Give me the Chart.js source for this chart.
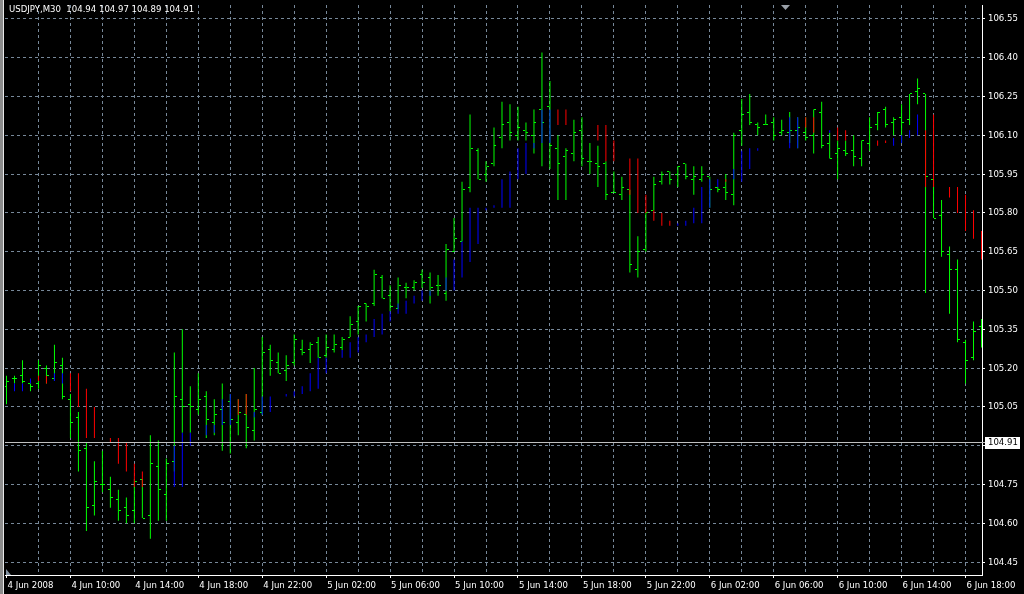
<!DOCTYPE html>
<html>
<head>
<meta charset="utf-8">
<script src="https://cdn.jsdelivr.net/npm/chart.js@4/dist/chart.umd.min.js"></script>
<style>
  html, body { margin: 0; padding: 0; background: #000; }
  #wrap { width: 1024px; height: 594px; position: relative; }
</style>
</head>
<body>
<div id="wrap"><canvas id="quotes"></canvas></div>
<script>
// USDJPY M30, 4-6 Jun 2008
const symbol = 'USDJPY,M30';
const headerOHLC = [104.94, 104.97, 104.89, 104.91];
const bidPrice = 104.91;

const dateLabels = ['4 Jun 2008', '4 Jun 10:00', '4 Jun 14:00', '4 Jun 18:00', '4 Jun 22:00',
  '5 Jun 02:00', '5 Jun 06:00', '5 Jun 10:00', '5 Jun 14:00', '5 Jun 18:00', '5 Jun 22:00',
  '6 Jun 02:00', '6 Jun 06:00', '6 Jun 10:00', '6 Jun 14:00', '6 Jun 18:00'];
const priceTicks = [104.45, 104.60, 104.75, 104.90, 105.05, 105.20, 105.35, 105.50,
  105.65, 105.80, 105.95, 106.10, 106.25, 106.40, 106.55];

const open = [105.13, 105.16, 105.17, 105.14, 105.14, 105.20, 105.16, 105.21, 105.08, 105.01,
  104.89, 104.67, 104.75, 104.73, 104.69, 104.66, 104.65, 104.77, 104.63, 104.82,
  104.71, 104.84, 105.08, 105.06, 105.04, 105.09, 104.99, 105.04, 105.07, 104.99,
  105.02, 104.96, 105.03, 105.27, 105.22, 105.19, 105.22, 105.27, 105.27, 105.30,
  105.25, 105.27, 105.28, 105.32, 105.38, 105.45, 105.45, 105.55, 105.48, 105.43,
  105.51, 105.51, 105.56, 105.55, 105.52, 105.49, 105.65, 105.69, 105.90, 106.04,
  105.95, 105.99, 106.09, 106.15, 106.10, 106.12, 106.10, 106.20, 106.21, 106.05,
  106.02, 106.03, 106.12, 106.00, 105.99, 105.99, 105.88, 105.87, 105.89, 105.58,
  105.66, 105.81, 105.92, 105.96, 105.95, 105.99, 105.93, 105.93, 105.94, 105.90,
  105.90, 105.87, 106.12, 106.19, 106.14, 106.14, 106.15, 106.11, 106.11, 106.12,
  106.11, 106.10, 106.19, 106.07, 106.03, 106.04, 106.04, 106.01, 106.07, 106.14,
  106.20, 106.15, 106.17, 106.16, 106.27, 106.26, 105.93, 105.79, 105.64, 105.58,
  105.30, 105.24, 105.36];
const high = [105.17, 105.17, 105.23, 105.14, 105.23, 105.21, 105.29, 105.24, 105.10, 105.03,
  104.91, 104.84, 104.88, 104.78, 104.73, 104.70, 104.77, 104.77, 104.94, 104.92,
  104.85, 105.26, 105.35, 105.13, 105.18, 105.11, 105.08, 105.14, 105.10, 105.08,
  105.10, 105.20, 105.32, 105.29, 105.26, 105.25, 105.33, 105.31, 105.30, 105.32,
  105.33, 105.33, 105.32, 105.40, 105.44, 105.45, 105.58, 105.56, 105.52, 105.55,
  105.53, 105.54, 105.58, 105.57, 105.56, 105.68, 105.78, 105.92, 106.18, 106.05,
  106.00, 106.13, 106.23, 106.22, 106.21, 106.15, 106.20, 106.42, 106.31, 106.10,
  106.05, 106.16, 106.17, 106.07, 106.06, 106.00, 105.96, 105.94, 105.89, 105.71,
  105.80, 105.94, 105.96, 105.96, 105.98, 105.99, 105.98, 105.98, 105.94, 105.90,
  105.95, 106.11, 106.24, 106.26, 106.15, 106.18, 106.17, 106.16, 106.19, 106.17,
  106.17, 106.20, 106.23, 106.11, 106.08, 106.08, 106.10, 106.08, 106.17, 106.19,
  106.21, 106.17, 106.22, 106.26, 106.32, 106.26, 105.93, 105.85, 105.67, 105.62,
  105.31, 105.38, 105.39];
const low = [105.06, 105.14, 105.14, 105.11, 105.12, 105.14, 105.15, 105.08, 104.93, 104.80,
  104.57, 104.63, 104.72, 104.66, 104.61, 104.60, 104.60, 104.62, 104.54, 104.61,
  104.61, 104.80, 104.95, 104.95, 105.02, 104.93, 104.94, 104.88, 104.87, 104.94,
  104.89, 104.92, 105.02, 105.17, 105.18, 105.15, 105.21, 105.25, 105.22, 105.24,
  105.24, 105.26, 105.27, 105.32, 105.33, 105.38, 105.44, 105.47, 105.42, 105.43,
  105.47, 105.50, 105.51, 105.45, 105.48, 105.46, 105.65, 105.69, 105.88, 105.93,
  105.92, 105.98, 106.05, 106.08, 106.08, 106.08, 106.03, 105.98, 105.97, 105.85,
  105.85, 106.00, 105.98, 105.95, 105.90, 105.85, 105.88, 105.85, 105.57, 105.55,
  105.65, 105.81, 105.91, 105.91, 105.90, 105.93, 105.87, 105.92, 105.82, 105.88,
  105.85, 105.83, 106.06, 106.14, 106.10, 106.14, 106.08, 106.10, 106.07, 106.05,
  106.08, 106.03, 106.05, 106.01, 105.93, 106.02, 105.98, 105.98, 106.04, 106.12,
  106.13, 106.10, 106.07, 106.14, 106.22, 105.49, 105.78, 105.63, 105.41, 105.30,
  105.14, 105.23, 105.28];
const close = [105.15, 105.16, 105.15, 105.13, 105.21, 105.17, 105.22, 105.09, 104.99, 104.88,
  104.66, 104.76, 104.75, 104.70, 104.65, 104.63, 104.76, 104.62, 104.83, 104.73,
  104.83, 105.09, 105.05, 105.05, 105.08, 105.00, 105.02, 104.99, 105.00, 105.03,
  104.97, 105.04, 105.26, 105.23, 105.18, 105.21, 105.31, 105.26, 105.29, 105.24,
  105.28, 105.29, 105.31, 105.37, 105.44, 105.44, 105.56, 105.47, 105.44, 105.52,
  105.51, 105.53, 105.53, 105.51, 105.52, 105.66, 105.70, 105.89, 106.05, 105.93,
  105.98, 106.06, 106.14, 106.11, 106.13, 106.11, 106.15, 106.15, 106.06, 105.99,
  106.04, 106.11, 106.01, 106.00, 105.98, 105.87, 105.88, 105.90, 105.60, 105.65,
  105.80, 105.91, 105.95, 105.93, 105.98, 105.94, 105.94, 105.95, 105.89, 105.89,
  105.88, 106.10, 106.18, 106.15, 106.13, 106.14, 106.10, 106.12, 106.12, 106.13,
  106.09, 106.20, 106.06, 106.01, 106.05, 106.03, 106.02, 106.08, 106.13, 106.19,
  106.14, 106.16, 106.15, 106.26, 106.28, 105.94, 105.78, 105.65, 105.58, 105.31,
  105.23, 105.34, 105.35];

// indicator segments (red = down, blue = up)
const segBar = [1, 2, 3, 4, 5, 6, 7, 8, 9, 10, 11, 13, 14, 15, 16, 17, 21, 22, 23, 25, 26, 27, 28, 29,
  30, 31, 32, 33, 35, 36, 37, 38, 39, 40, 42, 43, 44, 45, 46, 47, 48, 49, 50, 51, 52, 53, 55,
  56, 57, 58, 59, 60, 61, 62, 63, 64, 65, 66, 67, 68, 69, 70, 74, 75, 76, 78, 79, 80, 81, 82,
  83, 84, 85, 86, 87, 88, 89, 90, 91, 92, 93, 94, 98, 99, 100, 101, 103, 104, 105, 109, 110,
  111, 112, 113, 114, 115, 116, 118, 119, 120, 121, 122];
const segLow = [105.11, 105.11, 105.14, 105.15, 105.14, 105.15, 105.14, 105.11, 105.05, 104.93,
  104.93, 104.91, 104.83, 104.80, 104.74, 104.74, 104.74, 104.74, 104.90, 104.94, 104.95,
  104.98, 104.98, 105.02, 105.02, 105.01, 105.02, 105.03, 105.09, 105.09, 105.10, 105.11,
  105.12, 105.18, 105.24, 105.24, 105.26, 105.30, 105.32, 105.33, 105.38, 105.41, 105.41,
  105.45, 105.46, 105.48, 105.50, 105.50, 105.55, 105.61, 105.68, 105.81, 105.82, 105.82,
  105.82, 105.93, 105.95, 106.05, 106.07, 106.07, 106.14, 106.14, 106.08, 106.00, 106.00,
  105.87, 105.80, 105.80, 105.77, 105.75, 105.75, 105.75, 105.75, 105.76, 105.76, 105.82,
  105.90, 105.92, 105.93, 105.92, 105.97, 106.04, 106.05, 106.05, 106.13, 106.11, 106.11,
  106.08, 106.08, 106.06, 106.07, 106.06, 106.07, 106.09, 106.10, 105.90, 105.90, 105.86,
  105.80, 105.73, 105.70, 105.62];
const segHigh = [105.14, 105.14, 105.16, 105.17, 105.17, 105.18, 105.18, 105.18, 105.18, 105.12,
  105.05, 104.93, 104.93, 104.91, 104.83, 104.80, 104.90, 104.95, 104.95, 104.98, 104.98,
  105.08, 105.10, 105.08, 105.10, 105.03, 105.09, 105.09, 105.10, 105.11, 105.13, 105.18,
  105.24, 105.24, 105.27, 105.30, 105.32, 105.33, 105.39, 105.41, 105.42, 105.45, 105.46,
  105.48, 105.50, 105.50, 105.55, 105.62, 105.69, 105.82, 105.82, 105.82, 105.83, 105.93,
  105.96, 106.05, 106.07, 106.07, 106.20, 106.20, 106.20, 106.20, 106.14, 106.14, 106.08,
  106.01, 106.01, 105.87, 105.81, 105.80, 105.77, 105.76, 105.77, 105.82, 105.90, 105.93,
  105.93, 105.93, 105.97, 106.04, 106.05, 106.05, 106.17, 106.17, 106.17, 106.17, 106.12,
  106.13, 106.12, 106.08, 106.08, 106.09, 106.10, 106.12, 106.18, 106.12, 106.18, 105.90,
  105.90, 105.87, 105.81, 105.73];
const segKind = ['b', 'b', 'b', 'r', 'r', 'b', 'b', 'r', 'r', 'r', 'r', 'r', 'r', 'r', 'r', 'r',
  'b', 'b', 'b', 'b', 'b', 'b', 'b', 'r', 'r', 'b', 'b', 'b', 'b', 'b', 'b', 'b', 'b', 'b',
  'b', 'b', 'b', 'b', 'b', 'b', 'b', 'b', 'b', 'b', 'b', 'b', 'b', 'b', 'b', 'b', 'b', 'b',
  'b', 'b', 'b', 'b', 'b', 'b', 'b', 'b', 'r', 'r', 'r', 'r', 'r', 'r', 'r', 'r', 'r', 'r',
  'r', 'b', 'b', 'b', 'b', 'b', 'b', 'r', 'b', 'b', 'b', 'b', 'b', 'b', 'r', 'r', 'b', 'r',
  'r', 'r', 'r', 'b', 'b', 'b', 'b', 'r', 'r', 'r', 'r', 'r', 'r', 'r'];

const GREEN = '#00ff00', RED = '#ff0000', BLUE = '#0000ff';
const GRID = '#778899', AXIS = '#ffffff';
const NONE = 'rgba(0,0,0,0)';

// terminal font is narrow: pick what is installed and size it so "5 Jun 02:00" is ~49px wide
function pickFont() {
  const g = document.createElement('canvas').getContext('2d');
  const widthOf = f => { g.font = f; return g.measureText('5 Jun 02:00').width; };
  const base = widthOf('11px monospace');
  let fam = 'Liberation Sans';
  for (const f of ['Liberation Sans Narrow', 'DejaVu Sans Condensed', 'Liberation Sans']) {
    if (widthOf("11px '" + f + "', monospace") !== base) { fam = f; break; }
  }
  const w = widthOf("11px '" + fam + "'");
  const size = Math.max(8, Math.min(11, Math.round(11 * 49 / w * 2) / 2));
  return { family: "'" + fam + "', sans-serif", size: size };
}
const FONT = pickFont();
const FONT_CSS = FONT.size + 'px ' + FONT.family;

// 1px tick image: open on the left of the bar, close on the right
function tickImage(side) {
  const c = document.createElement('canvas');
  c.width = 5; c.height = 1;
  const g = c.getContext('2d');
  g.fillStyle = GREEN;
  g.fillRect(side === 'open' ? 0 : 3, 0, 2, 1);
  return c;
}

const bars = open.map((o, i) => i);

const terminal = {
  id: 'terminal',
  beforeDraw(chart) {
    const ctx = chart.ctx;
    ctx.save();
    ctx.fillStyle = '#000';
    ctx.fillRect(0, 0, chart.width, chart.height);
    ctx.restore();
  },
  beforeDatasetsDraw(chart) {
    chart.ctx.imageSmoothingEnabled = false;
  },
  afterDatasetsDraw(chart) {
    const ctx = chart.ctx, a = chart.chartArea;
    const y = Math.floor(chart.scales.y.getPixelForValue(bidPrice)) - 0.5;
    ctx.save();
    ctx.strokeStyle = '#c0c0c0';
    ctx.lineWidth = 1;
    ctx.beginPath();
    ctx.moveTo(a.left, y);
    ctx.lineTo(a.right + 4, y);
    ctx.stroke();
    ctx.restore();
  },
  afterDraw(chart) {
    const ctx = chart.ctx, a = chart.chartArea;
    const y = Math.floor(chart.scales.y.getPixelForValue(bidPrice)) - 0.5;
    ctx.save();
    // bid label
    ctx.fillStyle = '#ffffff';
    ctx.fillRect(a.right + 3, Math.round(y - 6), 35, 12);
    ctx.fillStyle = '#000000';
    ctx.font = FONT_CSS;
    ctx.textBaseline = 'middle';
    ctx.fillText(bidPrice.toFixed(2), a.right + 6, y + 0.5);
    // header
    ctx.fillStyle = '#ffffff';
    ctx.textBaseline = 'top';
    ctx.fillText(symbol + '  ' + headerOHLC.map(v => v.toFixed(2)).join(' '), 9, 5);
    // window frame on the left
    ctx.fillStyle = '#8c8c8c';
    ctx.fillRect(0, 0, 3, chart.height);
    ctx.fillStyle = '#e8e8e8';
    ctx.fillRect(3, 0, 1, chart.height);
    // chart shift marker
    ctx.fillStyle = '#9aa0a8';
    ctx.beginPath();
    ctx.moveTo(781, a.top);
    ctx.lineTo(790, a.top);
    ctx.lineTo(785.5, a.top + 5);
    ctx.closePath();
    ctx.fill();
    // corner marker
    ctx.fillStyle = '#8090a0';
    ctx.beginPath();
    ctx.moveTo(a.left + 1, a.bottom - 6);
    ctx.lineTo(a.left + 1, a.bottom);
    ctx.lineTo(a.left + 6, a.bottom);
    ctx.closePath();
    ctx.fill();
    ctx.restore();
  }
};

new Chart(document.getElementById('quotes'), {
  type: 'bar',
  data: {
    datasets: [{
      type: 'bar',
      data: segBar.map((b, k) => ({ x: b, y: [segLow[k], segHigh[k]] })),
      backgroundColor: segKind.map(k => (k === 'r' ? RED : BLUE)),
      barThickness: 1,
      grouped: false,
      inflateAmount: 0,
      borderWidth: 0,
      order: 0
    }, {
      type: 'line',
      data: bars.map(i => ({ x: i, y: open[i] })),
      showLine: false,
      pointStyle: tickImage('open'),
      pointRadius: 2,
      order: 1
    }, {
      type: 'line',
      data: bars.map(i => ({ x: i, y: close[i] })),
      showLine: false,
      pointStyle: tickImage('close'),
      pointRadius: 2,
      order: 1
    }, {
      type: 'bar',
      data: bars.map(i => ({ x: i, y: [low[i], high[i]] })),
      backgroundColor: GREEN,
      barThickness: 1,
      grouped: false,
      inflateAmount: 0,
      borderWidth: 0,
      order: 2
    }]
  },
  options: {
    responsive: true,
    maintainAspectRatio: false,
    animation: false,
    events: [],
    layout: { padding: { left: 4, top: 2, right: 0, bottom: 0 } },
    plugins: { legend: { display: false }, tooltip: { enabled: false } },
    scales: {
      x: {
        type: 'linear',
        min: -0.1875,
        max: 122.0625,
        offset: false,
        afterBuildTicks: s => {
          s.ticks = [];
          for (let v = 0; v <= 120; v += 4) s.ticks.push({ value: v });
        },
        afterFit: s => {
          s.height = 19;
          s.paddingLeft = 0; s.paddingRight = 0;
        },
        grid: {
          offset: false,
          color: c => (c.tick && c.tick.value > 0 ? GRID : NONE),
          tickColor: c => (c.tick && c.tick.value % 8 === 0 ? AXIS : NONE),
          tickLength: 3,
          tickBorderDash: []
        },
        border: { color: AXIS, dash: [3, 3] },
        ticks: {
          autoSkip: false,
          maxRotation: 0,
          minRotation: 0,
          align: 'start',
          padding: 2,
          labelOffset: 1,
          color: AXIS,
          font: { family: FONT.family, size: FONT.size },
          callback: v => (v % 8 === 0 ? dateLabels[v / 8] : '')
        }
      },
      y: {
        position: 'right',
        min: 104.40,
        max: 104.40 + 573 / 260,
        afterBuildTicks: s => { s.ticks = priceTicks.map(v => ({ value: v })); },
        afterFit: s => {
          s.width = 42;
          s.paddingTop = 0; s.paddingBottom = 0;
        },
        grid: { color: GRID, tickColor: AXIS, tickLength: 3, tickBorderDash: [] },
        border: { color: AXIS, dash: [3, 3] },
        ticks: {
          color: AXIS,
          padding: 3,
          font: { family: FONT.family, size: FONT.size },
          callback: v => v.toFixed(2)
        }
      }
    }
  },
  plugins: [terminal]
});
</script>
</body>
</html>
